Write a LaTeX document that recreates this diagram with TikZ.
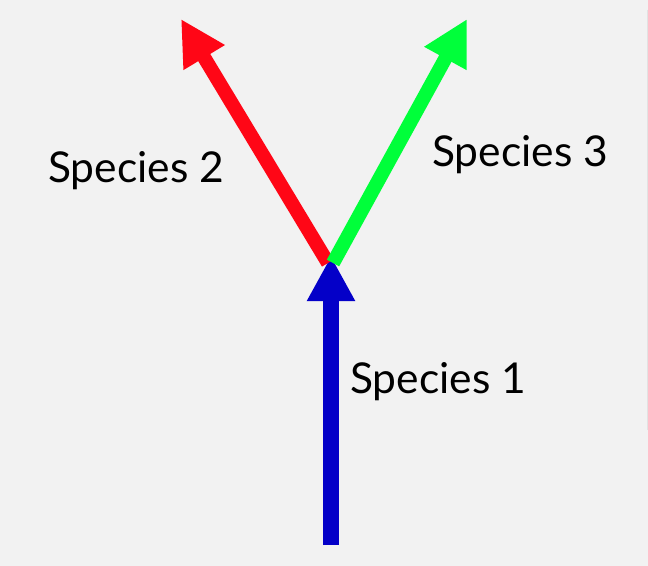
\documentclass[tikz,border=0pt]{standalone}
\usepackage{fontspec}
\setmainfont{Lato}
\usetikzlibrary{arrows.meta}
\definecolor{bg}{HTML}{F2F2F2}
\definecolor{edge}{HTML}{E2E2E2}
\definecolor{sp1}{HTML}{0400C8}
\definecolor{sp2}{HTML}{FF0616}
\definecolor{sp3}{HTML}{00FF3A}
\tikzset{
  lineage/.style={line width=#1, -{Triangle[length=45bp,width=45bp]}},
  lbl/.style={anchor=base west, inner sep=0pt, font=\fontsize{42.5bp}{50bp}\selectfont},
}
\begin{document}
\begin{tikzpicture}[x=1bp,y=-1bp]
\fill[bg] (0,0) rectangle (648,566);
\useasboundingbox (0,0) rectangle (648,566);
\draw[edge, line width=1bp] (647.5,10) -- (647.5,430);
\coordinate (root) at (331,545);
\coordinate (fork) at (331,256);
\coordinate (s2start) at (328,263);
\coordinate (s2tip) at (181,19);
\coordinate (s3start) at (333,263);
\coordinate (s3tip) at (467,19);
\draw[sp1, lineage=16bp] (root) -- (fork);
\draw[sp2, lineage=14bp] (s2start) -- (s2tip);
\draw[sp3, lineage=14bp] (s3start) -- (s3tip);
\node[lbl] (l2) at (48,183) {Species 2};
\node[lbl] (l3) at (432,167) {Species 3};
\node[lbl] (l1) at (350,393) {Species 1};
\end{tikzpicture}
\end{document}
